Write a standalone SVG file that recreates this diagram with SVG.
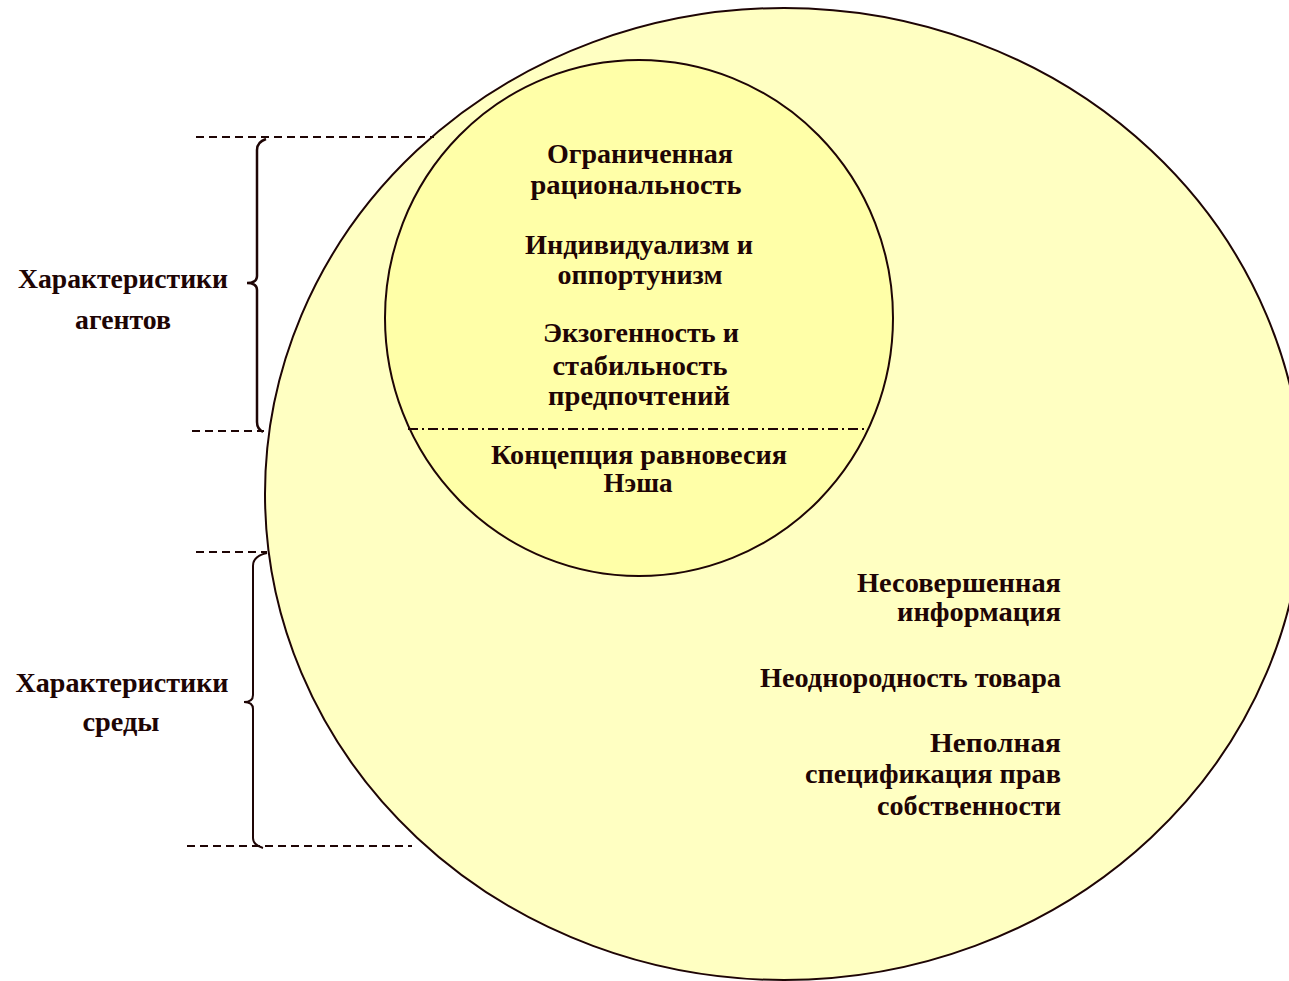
<svg xmlns="http://www.w3.org/2000/svg" width="1289" height="981" viewBox="0 0 1289 981">
<style>
.t{font-family:"Liberation Serif","DejaVu Serif",serif;font-weight:bold;font-size:27px;fill:#1e0505;text-anchor:middle}
.r{text-anchor:end}
.dash{stroke:#1e0505;stroke-width:2;stroke-dasharray:8 5;fill:none}
.brace{stroke:#1e0505;fill:none}
</style>
<rect width="1289" height="981" fill="#ffffff"/>
<g id="outer">
<ellipse cx="784" cy="494" rx="519" ry="486" fill="#ffffc2" stroke="#1e0505" stroke-width="2"/>
</g>
<g id="inner">
<ellipse cx="639" cy="318" rx="254" ry="258" fill="#ffffa8" stroke="#1e0505" stroke-width="2"/>
<line x1="408" y1="429" x2="866" y2="429" stroke="#1e0505" stroke-width="2" stroke-dasharray="10 4 2 4"/>
<text class="t" x="640" y="163" textLength="186" lengthAdjust="spacingAndGlyphs">Ограниченная</text>
<text class="t" x="636" y="194" textLength="211" lengthAdjust="spacingAndGlyphs">рациональность</text>
<text class="t" x="639" y="254" textLength="228" lengthAdjust="spacingAndGlyphs">Индивидуализм и</text>
<text class="t" x="640" y="284" textLength="165" lengthAdjust="spacingAndGlyphs">оппортунизм</text>
<text class="t" x="641" y="342" textLength="196" lengthAdjust="spacingAndGlyphs">Экзогенность и</text>
<text class="t" x="640" y="375" textLength="175" lengthAdjust="spacingAndGlyphs">стабильность</text>
<text class="t" x="639" y="405" textLength="182" lengthAdjust="spacingAndGlyphs">предпочтений</text>
<text class="t" x="639" y="464" textLength="296" lengthAdjust="spacingAndGlyphs">Концепция равновесия</text>
<text class="t" x="638" y="492" textLength="69" lengthAdjust="spacingAndGlyphs">Нэша</text>
</g>
<g id="environment">
<text class="t r" x="1061" y="592" textLength="204" lengthAdjust="spacingAndGlyphs">Несовершенная</text>
<text class="t r" x="1061" y="621" textLength="164" lengthAdjust="spacingAndGlyphs">информация</text>
<text class="t r" x="1061" y="687" textLength="301" lengthAdjust="spacingAndGlyphs">Неоднородность товара</text>
<text class="t r" x="1061" y="752" textLength="131" lengthAdjust="spacingAndGlyphs">Неполная</text>
<text class="t r" x="1061" y="783" textLength="256" lengthAdjust="spacingAndGlyphs">спецификация прав</text>
<text class="t r" x="1061" y="815" textLength="184" lengthAdjust="spacingAndGlyphs">собственности</text>
</g>
<g id="label-agents">
<text class="t" x="123" y="288" textLength="210" lengthAdjust="spacingAndGlyphs">Характеристики</text>
<text class="t" x="123" y="329" textLength="96" lengthAdjust="spacingAndGlyphs">агентов</text>
</g>
<g id="label-env">
<text class="t" x="122" y="692" textLength="213" lengthAdjust="spacingAndGlyphs">Характеристики</text>
<text class="t" x="121" y="731" textLength="77" lengthAdjust="spacingAndGlyphs">среды</text>
</g>
<g id="connectors">
<line class="dash" x1="196" y1="137" x2="434" y2="137"/>
<line class="dash" x1="192" y1="431" x2="264" y2="431"/>
<line class="dash" x1="196" y1="552" x2="267" y2="552"/>
<line class="dash" x1="187" y1="846" x2="412" y2="846"/>
<path class="brace" stroke-width="2.5" d="M266,139 Q257,142 257,150 L257,276 Q257,283 247,283 Q257,283 257,290 L257,422 Q257,429 263,432"/>
<path class="brace" stroke-width="2" d="M267,553 Q253,556 253,566 L253,695 Q253,702 244,702 Q253,702 253,709 L253,838 Q253,845 263,848"/>
</g>
</svg>
